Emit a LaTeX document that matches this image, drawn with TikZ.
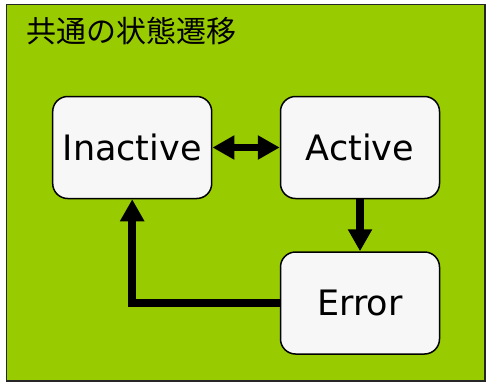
\documentclass[tikz,border=0pt]{standalone}
\usepackage{fontspec}
\setmainfont{DejaVu Sans}
\newfontfamily\cjk{Noto Sans CJK JP}
\usetikzlibrary{arrows.meta}
\definecolor{bggreen}{HTML}{99CC00}
\definecolor{boxfill}{HTML}{F7F7F7}
\tikzset{
  statebox/.style={draw=black, line width=1.5pt, fill=boxfill, rounded corners=15pt,
    minimum width=159pt, minimum height=102pt, inner sep=0pt,
    font=\fontsize{35pt}{40pt}\selectfont},
  conn/.style={line width=7.5pt, draw=black},
  mytip/.tip={Triangle[width=23pt,length=22pt]}
}
\begin{document}
\begin{tikzpicture}[x=1pt,y=-1pt]
\useasboundingbox (0,0) rectangle (486,383);
\draw[fill=bggreen, draw=black!85, line width=1.5pt] (6.5,4.5) rectangle (485,381);
\node[anchor=west, inner sep=0pt, font=\cjk\fontsize{30pt}{34pt}\selectfont] (title) at (26,31) {共通の状態遷移};
\node[statebox] (inactive) at (132.2,147.5) {Inactive};
\node[statebox] (active) at (360,147.5) {Active};
\node[statebox] (error) at (360,303) {Error};
\draw[conn, mytip-mytip] (inactive.east) -- (active.west);
\draw[conn, -mytip] (active.south) -- (error.north);
\draw[conn, -mytip] (error.west) -| (inactive.south);
\end{tikzpicture}
\end{document}
